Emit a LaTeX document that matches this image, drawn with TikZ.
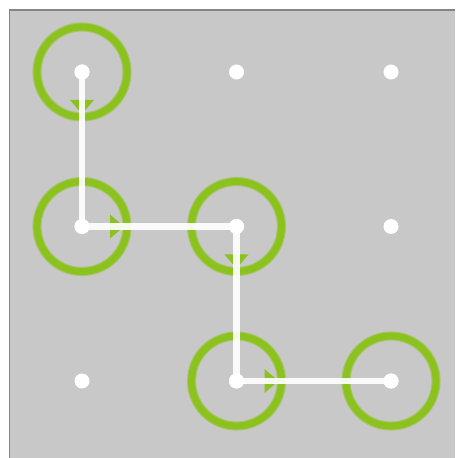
\documentclass[tikz,border=0pt]{standalone}
\usetikzlibrary{positioning}
\definecolor{lockgray}{HTML}{C8C8C8}
\definecolor{lockgreen}{HTML}{8CC21E}
\definecolor{frameline}{HTML}{858585}
\tikzset{
  dot/.style={circle,fill=white,inner sep=0pt,minimum size=0.3cm},
  ring/.style={circle,draw=lockgreen,line width=3.9pt,inner sep=0pt,minimum size=1.8cm,
    preaction={draw=lockgreen!55!lockgray,line width=5.2pt}},
  trail/.style={white,line width=3.5pt,line join=miter,opacity=0.92},
  tip/.style={fill=lockgreen}
}

\begin{document}
\begin{tikzpicture}[node distance=3.09cm,on grid]
    \useasboundingbox (0,0) rectangle (9.1,-9.16);
    \fill[white] (0,0) rectangle (9.1,-9.16);
    \fill[lockgray] (0.19,-0.2) rectangle (9.1,-9.16);
    \draw[frameline,line width=1pt] (0.19,-9.16) -- (0.19,-0.2) -- (9.1,-0.2);
    % dot grid
    \node[dot] (d11) at (1.64,-1.44) {};
    \node[dot,right=of d11] (d12) {};
    \node[dot,right=of d12] (d13) {};
    \node[dot,below=of d11] (d21) {};
    \node[dot,right=of d21] (d22) {};
    \node[dot,right=of d22] (d23) {};
    \node[dot,below=of d21] (d31) {};
    \node[dot,right=of d31] (d32) {};
    \node[dot,right=of d32] (d33) {};
    % touched dots
    \foreach \n in {d11,d21,d22,d32,d33}
      \node[ring] (r\n) at (\n) {};
    \foreach \n/\a in {d11/-90,d21/0,d22/-90,d32/0}
      \fill[tip,shift={(\n.center)},rotate=\a] (0.56,0.24) -- (0.84,0) -- (0.56,-0.24) -- cycle;
    \draw[trail] (d11.center) -- (d21.center) -- (d22.center) -- (d32.center) -- (d33.center);
    \foreach \n in {d11,d21,d22,d32,d33}
      \fill[white] (\n) circle (0.15);
\end{tikzpicture}
\end{document}
